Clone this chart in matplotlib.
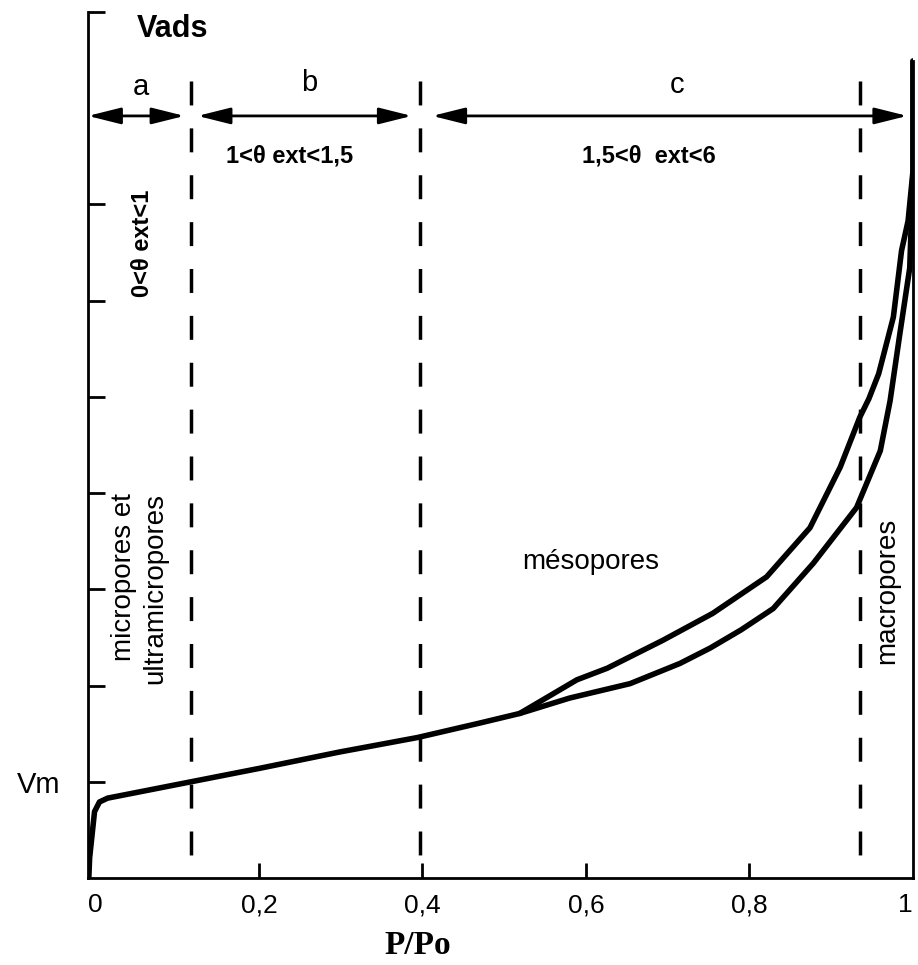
import matplotlib
matplotlib.use("Agg")
from matplotlib import pyplot as plt

plt.rcParams['font.family'] = ['Liberation Sans', 'DejaVu Sans']

# adsorption branch (common part + lower branch of the loop), P/Po vs Vads (Vm = 1)
ads_x = [-0.008, -0.007, -0.001, 0.005, 0.015, 0.117, 0.201, 0.299, 0.394, 0.470, 0.519,
         0.580, 0.654, 0.715, 0.752, 0.790, 0.829, 0.878, 0.931, 0.960, 0.972,
         0.984, 0.996, 1.0, 1.0]
ads_y = [0.0, 0.21, 0.69, 0.79, 0.83, 1.00, 1.14, 1.31, 1.46, 1.61, 1.71,
         1.87, 2.02, 2.23, 2.39, 2.58, 2.80, 3.27, 3.85, 4.44, 4.96,
         5.66, 6.34, 7.35, 8.49]

# desorption branch (upper branch of the loop)
des_x = [1.0, 1.0, 0.994, 0.986, 0.976, 0.958, 0.946, 0.935, 0.911, 0.874, 0.821,
         0.755, 0.694, 0.626, 0.589, 0.519]
des_y = [8.49, 7.35, 6.83, 6.52, 5.83, 5.24, 4.98, 4.79, 4.27, 3.64, 3.13,
         2.75, 2.47, 2.18, 2.06, 1.71]

# domain limits (dashed lines)
limits = [0.117, 0.397, 0.935]

x_ticks = [0, 0.2, 0.4, 0.6, 0.8, 1]
x_labels = ["0", "0,2", "0,4", "0,6", "0,8", "1"]
y_ticks = [1, 2, 3, 4, 5, 6, 7, 9]
y_labels = ["Vm", "", "", "", "", "", "", ""]

fig = plt.figure(figsize=(9.18, 9.65), dpi=100)
ax = fig.add_axes([88 / 918, 87 / 965, 825 / 918, 866 / 965])
ax.set_xlim(-0.009, 1.0)
ax.set_ylim(0, 9)

for side in ["top", "right"]:
    ax.spines[side].set_visible(False)
for side in ["left", "bottom"]:
    ax.spines[side].set_linewidth(2)

ax.plot(ads_x, ads_y, color="black", lw=4, solid_capstyle="round",
        solid_joinstyle="round", zorder=3)
ax.plot(des_x, des_y, color="black", lw=4, solid_capstyle="round",
        solid_joinstyle="round", zorder=3)
ax.plot([1.0, 1.0], [0, 8.49], color="black", lw=2, clip_on=False)

for xl in limits:
    ax.plot([xl, xl], [8.28, 0], color="black", lw=2.5,
            linestyle=(0, (6.9, 6.6)), clip_on=False)

ax.set_xticks(x_ticks)
ax.set_xticklabels(x_labels)
ax.set_yticks(y_ticks)
ax.set_yticklabels(y_labels)
ax.tick_params(axis="x", direction="in", length=11, width=2, pad=11, labelsize=19)
ax.tick_params(axis="y", direction="in", length=12, width=2, pad=20, labelsize=21)
xt = ax.xaxis.get_major_ticks()
xt[0].tick1line.set_visible(False)
xt[-1].tick1line.set_visible(False)
xt[-1].label1.set_horizontalalignment("right")

# arrows a, b, c
arrow = dict(arrowstyle="<|-|>,head_length=1.0,head_width=0.25", color="black",
             lw=2, shrinkA=0, shrinkB=0, mutation_scale=20)
ax.annotate("", xy=(-0.009, 7.92), xytext=(0.109, 7.92), arrowprops=arrow, annotation_clip=False)
ax.annotate("", xy=(0.125, 7.92), xytext=(0.387, 7.92), arrowprops=arrow)
ax.annotate("", xy=(0.412, 7.92), xytext=(0.993, 7.92), arrowprops=arrow)

ax.text(0.094, 8.82, "Vads", fontsize=22, fontweight="bold", ha="center", va="center")
ax.text(0.056, 8.22, "a", fontsize=21, ha="center", va="center")
ax.text(0.262, 8.26, "b", fontsize=21, ha="center", va="center")
ax.text(0.712, 8.24, "c", fontsize=21, ha="center", va="center")

ax.text(0.237, 7.50, "1<θ ext<1,5", fontsize=17, fontweight="bold", ha="center", va="center")
ax.text(0.677, 7.50, "1,5<θ  ext<6", fontsize=17, fontweight="bold", ha="center", va="center")
ax.text(0.058, 6.60, "0<θ ext<1", fontsize=17, fontweight="bold", rotation=90,
        ha="center", va="center")

ax.text(0.054, 4.0, "micropores et\nultramicropores", fontsize=20, rotation=90,
        ha="center", va="top", multialignment="right", linespacing=1.25)
ax.text(0.606, 3.28, "mésopores", fontsize=20, ha="center", va="center")
ax.text(0.969, 2.98, "macropores", fontsize=20, rotation=90, ha="center", va="center")

fig.text(418 / 918, 1 - 945 / 965, "P/Po", fontsize=24, fontweight="bold",
         family="Liberation Serif", ha="center", va="center")

fig.savefig("out.png", dpi=100)
